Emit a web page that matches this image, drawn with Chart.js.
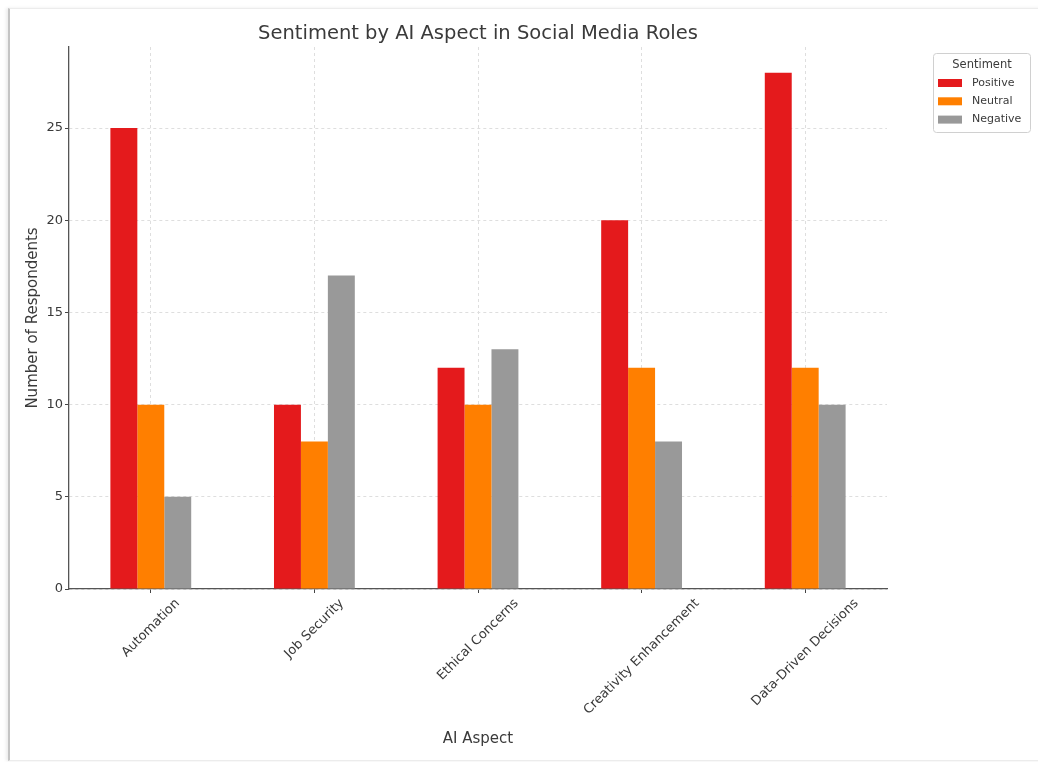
<!DOCTYPE html>
<html>
<head>
<meta charset="utf-8">
<script src="https://cdn.jsdelivr.net/npm/chart.js@4.4.0/dist/chart.umd.min.js"></script>
<style>
  html, body { margin: 0; padding: 0; background: #fff; }
  #frame { position: absolute; left: 8px; top: 8px; width: 1040px; height: 751px;
           border-left: 2px solid #c4c4c4; border-top: 1px solid #ececec; border-bottom: 1px solid #ececec;
           box-shadow: -2px 0 3px rgba(0,0,0,0.08); }
  #wrap { position: absolute; left: 0; top: 0; width: 1038px; height: 762px; }
</style>
</head>
<body>
<div id="frame"></div>
<div id="wrap"><canvas id="c" width="1038" height="762"></canvas></div>
<script>
const categories = ["Automation", "Job Security", "Ethical Concerns", "Creativity Enhancement", "Data-Driven Decisions"];
const seriesNames = ["Positive", "Neutral", "Negative"];
const positive = [25, 10, 12, 20, 28];
const neutral  = [10, 8, 10, 12, 12];
const negative = [5, 17, 13, 8, 10];
const yTicks = [0, 5, 10, 15, 20, 25];
const colors = ["#e41a1c", "#ff7f00", "#999999"];

const FONT = "'DejaVu Sans', sans-serif";
const TEXT = "#3a3a3a";

const titlePlugin = {
  id: 'customTitleLegend',
  afterDraw(chart) {
    const ctx = chart.ctx;
    const area = chart.chartArea;
    ctx.save();
    // Title
    ctx.fillStyle = TEXT;
    ctx.font = "19.5px " + FONT;
    ctx.textAlign = 'center';
    ctx.textBaseline = 'middle';
    ctx.fillText("Sentiment by AI Aspect in Social Media Roles", (area.left + area.right) / 2, 34);

    // x tick labels (rotated 45°, centered on tick like matplotlib ha='center')
    const xs = chart.scales.x;
    ctx.font = "13px " + FONT;
    ctx.fillStyle = TEXT;
    const h = 15;
    categories.forEach((lab, i) => {
      const tx = xs.getPixelForTick(i);
      const w = ctx.measureText(lab).width;
      const H = (w + h) / Math.SQRT2;
      const cy = area.bottom + 7 + H / 2;
      ctx.save();
      ctx.translate(tx, cy);
      ctx.rotate(-Math.PI / 4);
      ctx.textAlign = 'center';
      ctx.textBaseline = 'middle';
      ctx.fillText(lab, 0, 0);
      ctx.restore();
    });

    // Legend
    const lx = 933, ly = 53, lw = 97, lh = 79;
    ctx.fillStyle = '#fff';
    ctx.strokeStyle = '#d0d0d0';
    ctx.lineWidth = 1;
    ctx.beginPath();
    ctx.roundRect(lx + 0.5, ly + 0.5, lw, lh, 3);
    ctx.fill();
    ctx.stroke();
    ctx.fillStyle = TEXT;
    ctx.font = "11.5px " + FONT;
    ctx.textAlign = 'center';
    ctx.textBaseline = 'middle';
    ctx.fillText("Sentiment", 982, 65);
    ctx.font = "11px " + FONT;
    ctx.textAlign = 'left';
    chart.data.datasets.forEach((ds, i) => {
      const y = 83 + i * 18.3;
      ctx.fillStyle = ds.backgroundColor;
      ctx.fillRect(938, y - 4, 24, 8);
      ctx.fillStyle = TEXT;
      ctx.fillText(ds.label, 972, y);
    });
    ctx.restore();
  }
};

new Chart(document.getElementById('c'), {
  type: 'bar',
  data: {
    labels: categories,
    datasets: [
      { label: seriesNames[0], data: positive, backgroundColor: colors[0] },
      { label: seriesNames[1], data: neutral, backgroundColor: colors[1] },
      { label: seriesNames[2], data: negative, backgroundColor: colors[2] }
    ]
  },
  options: {
    responsive: false,
    animation: false,
    devicePixelRatio: 1,
    layout: { padding: { left: 20, right: 151, top: 47, bottom: 10 } },
    datasets: { bar: { categoryPercentage: 0.494, barPercentage: 1.0, borderWidth: 0 } },
    plugins: { legend: { display: false }, title: { display: false }, tooltip: { enabled: false } },
    scales: {
      x: {
        type: 'category',
        offset: true,
        grid: { offset: false, color: '#dedede', lineWidth: 1, drawTicks: true, tickLength: 4,
                tickColor: '#444', tickBorderDash: [] },
        border: { display: true, color: '#555', width: 1.3, dash: [3, 3] },
        ticks: { display: false },
        title: { display: true, text: 'AI Aspect', color: TEXT, font: { family: FONT, size: 15 } },
        afterFit(scale) { scale.height = 163; }
      },
      y: {
        min: 0, max: 29.4,
        grid: { color: '#dedede', lineWidth: 1, drawTicks: true, tickLength: 4,
                tickColor: '#444', tickBorderDash: [] },
        border: { display: true, color: '#555', width: 1.3, dash: [3, 3] },
        ticks: { stepSize: 5, padding: 2, color: TEXT, font: { family: FONT, size: 13 } },
        afterBuildTicks(scale) { scale.ticks = yTicks.map(v => ({ value: v })); },
        title: { display: true, text: 'Number of Respondents', color: TEXT, font: { family: FONT, size: 15 } },
        afterFit(scale) { scale.width = 49; }
      }
    }
  },
  plugins: [titlePlugin]
});
</script>
</body>
</html>
